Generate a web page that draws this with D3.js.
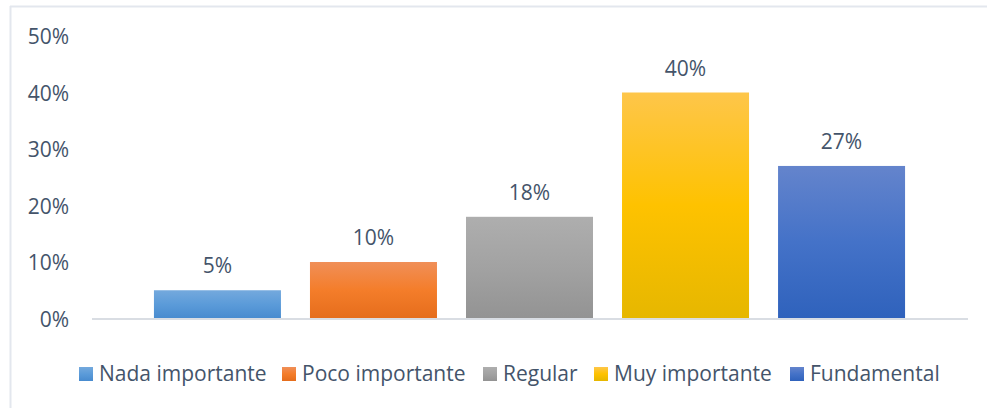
<!DOCTYPE html>
<html>
<head>
<meta charset="utf-8">
<script src="https://cdn.jsdelivr.net/npm/d3@7"></script>
<style>
  html, body { margin: 0; padding: 0; background: #fff; }
  svg { display: block; font-family: "Open Sans", "Noto Sans", sans-serif; }
</style>
</head>
<body>
<svg id="chart" width="987" height="408"></svg>
<script>
// Importance ratings (share of respondents)
const categories = ["Nada importante", "Poco importante", "Regular", "Muy importante", "Fundamental"];
const values = [0.05, 0.10, 0.18, 0.40, 0.27];
const yTicks = [0, 0.1, 0.2, 0.3, 0.4, 0.5];
// Gradient stops per category: top, middle, bottom
const palettes = [
  ["#74A9DD", "#5B9BD9", "#488BCF"],
  ["#F08F58", "#F47D2A", "#E56D1C"],
  ["#AEAEAE", "#A2A2A2", "#939393"],
  ["#FEC64A", "#FEC200", "#E6B700"],
  ["#6484CC", "#4472C8", "#2F62BC"]
];

const textColor = "#44546A";
const frameColor = "#E3E7EE";
const fontSize = 21;
const svg = d3.select("#chart");

// Chart frame (top and left edges visible)
svg.append("line").attr("x1", 10).attr("x2", 987).attr("y1", 6.5).attr("y2", 6.5)
  .attr("stroke", frameColor).attr("stroke-width", 2);
svg.append("line").attr("x1", 10.5).attr("x2", 10.5).attr("y1", 6).attr("y2", 408)
  .attr("stroke", frameColor).attr("stroke-width", 2);

const plot = { left: 92, right: 967, top: 36, bottom: 318.5 };

const x = d3.scaleBand()
  .domain(categories)
  .range([plot.left, plot.right])
  .paddingInner(0.186)
  .paddingOuter(0.397);

const y = d3.scaleLinear().domain([0, 0.5]).range([plot.bottom, plot.top]);

const defs = svg.append("defs");
palettes.forEach((p, i) => {
  const g = defs.append("linearGradient").attr("id", "grad" + i)
    .attr("x1", 0).attr("y1", 0).attr("x2", 0).attr("y2", 1);
  g.append("stop").attr("offset", "0%").attr("stop-color", p[0]);
  g.append("stop").attr("offset", "50%").attr("stop-color", p[1]);
  g.append("stop").attr("offset", "100%").attr("stop-color", p[2]);
});

// Y axis labels (no axis line)
const yAxis = d3.axisLeft(y).tickValues(yTicks).tickFormat(d3.format(".0%")).tickSize(0).tickPadding(0);
const yg = svg.append("g").attr("transform", `translate(69,0)`).call(yAxis);
yg.select(".domain").remove();
yg.selectAll("text").attr("fill", textColor).attr("font-size", fontSize)
  .attr("font-family", "'Open Sans', sans-serif").attr("dy", "0.36em");

// Bars
svg.append("g").selectAll("rect").data(values).join("rect")
  .attr("x", (d, i) => x(categories[i]))
  .attr("width", x.bandwidth())
  .attr("y", d => y(d))
  .attr("height", d => y(0) - y(d))
  .attr("fill", (d, i) => `url(#grad${i})`);

// Category baseline
svg.append("line").attr("x1", plot.left).attr("x2", plot.right + 1)
  .attr("y1", y(0) + 0.5).attr("y2", y(0) + 0.5)
  .attr("stroke", "#D9DDE3").attr("stroke-width", 2);

// Value labels
svg.append("g").selectAll("text").data(values).join("text")
  .attr("x", (d, i) => x(categories[i]) + x.bandwidth() / 2)
  .attr("y", d => y(d) - 17)
  .attr("text-anchor", "middle")
  .attr("font-size", fontSize)
  .attr("fill", textColor)
  .text(d => d3.format(".0%")(d));

// Legend
const legendX = [79, 282, 483, 594, 790];
const lg = svg.append("g");
categories.forEach((c, i) => {
  const item = lg.append("g").attr("transform", `translate(${legendX[i]},367)`);
  item.append("rect").attr("width", 14).attr("height", 14).attr("fill", `url(#grad${i})`);
  item.append("text").attr("x", 20).attr("y", 14).attr("font-size", fontSize)
    .attr("fill", textColor).text(c);
});
</script>
</body>
</html>
